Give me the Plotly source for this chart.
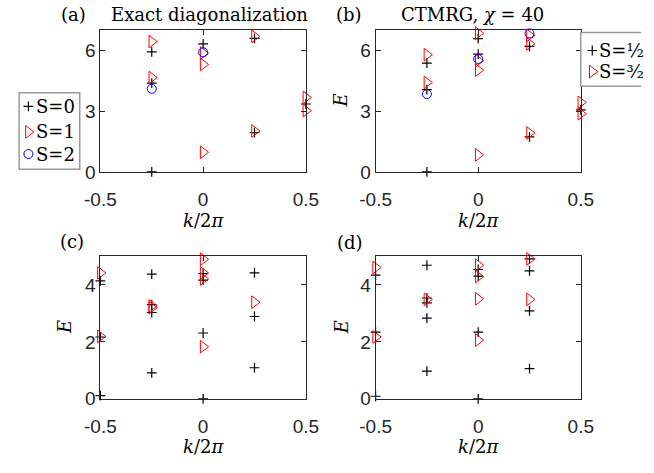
import plotly.graph_objects as go

W, H = 654, 473

# ---- Panel (a): exact diagonalization, integer spin sectors ----
ka_s0 = [-0.25, -0.25, -0.25, 0.0, 0.25, 0.25, 0.5]
Ea_s0 = [0.0, 4.38, 5.92, 6.32, 1.94, 6.59, 3.35]
ka_s1 = [-0.25, -0.25, 0.0, 0.0, 0.0, 0.25, 0.25, 0.5, 0.5]
Ea_s1 = [4.65, 6.43, 0.97, 5.30, 5.86, 2.02, 6.68, 3.02, 3.67]
ka_s2 = [-0.25, 0.0]
Ea_s2 = [4.10, 5.90]

# ---- Panel (b): CTMRG chi = 40, half-integer spin sectors ----
kb_s12 = [-0.25, -0.25, -0.25, 0.0, 0.0, 0.25, 0.25, 0.5]
Eb_s12 = [0.0, 4.06, 5.37, 5.81, 6.57, 1.73, 6.19, 3.06]
kb_s32 = [-0.25, -0.25, 0.0, 0.0, 0.0, 0.0, 0.25, 0.25, 0.25, 0.5, 0.5]
Eb_s32 = [4.41, 5.78, 0.84, 5.02, 5.49, 6.84, 1.92, 6.32, 6.73, 2.87, 3.43]
kb_s52 = [-0.25, 0.0, 0.25]
Eb_s52 = [3.84, 5.57, 6.83]

# ---- Panel (c) ----
kc_p = [-0.5, -0.5, -0.5, -0.25, -0.25, -0.25, -0.25, 0.0, 0.0, 0.0, 0.0, 0.25, 0.25, 0.25]
Ec_p = [0.11, 2.17, 4.14, 0.91, 3.03, 3.31, 4.38, 0.0, 2.31, 4.17, 4.40, 1.09, 2.89, 4.42]
kc_t = [-0.5, -0.5, -0.25, -0.25, 0.0, 0.0, 0.0, 0.0, 0.25]
Ec_t = [2.19, 4.42, 3.20, 3.26, 1.83, 4.21, 4.42, 4.90, 3.39]

# ---- Panel (d) ----
kd_p = [-0.5, -0.5, -0.5, -0.25, -0.25, -0.25, -0.25, -0.25, 0.0, 0.0, 0.0, 0.0,
        0.25, 0.25, 0.25, 0.25]
Ed_p = [0.09, 2.34, 4.34, 0.97, 2.83, 3.37, 3.54, 4.69, 0.0, 2.34, 4.31, 4.54,
        1.06, 3.09, 4.49, 4.91]
kd_t = [-0.5, -0.5, -0.25, 0.0, 0.0, 0.0, 0.0, 0.25, 0.25]
Ed_t = [2.17, 4.61, 3.49, 2.06, 3.51, 4.29, 4.69, 3.49, 4.91]

x_ticks = [-0.5, 0.0, 0.5]
x_ticktext = ["-0.5", "0", "0.5"]
y_ticks_top = [0, 3, 6]
y_ticks_bottom = [0, 2, 4]

AX = "#262626"
SERIF = "DejaVu Serif"
SANS = "Liberation Sans"

PLUS = dict(symbol="cross-thin-open", size=7, color="black", line=dict(width=1.2, color="black"))
TRI = dict(symbol="triangle-right-open", size=11, color="red", line=dict(width=1, color="red"))
CIRC = dict(symbol="circle-open", size=9, color="blue", line=dict(width=1, color="blue"))

fig = go.Figure()


def add(k, e, marker, xa, ya):
    fig.add_trace(go.Scatter(x=k, y=e, mode="markers", marker=marker, xaxis=xa, yaxis=ya,
                             cliponaxis=False, showlegend=False, hoverinfo="skip"))


add(ka_s0, Ea_s0, PLUS, "x", "y")
add(ka_s1, Ea_s1, TRI, "x", "y")
add(ka_s2, Ea_s2, CIRC, "x", "y")
add(kb_s12, Eb_s12, PLUS, "x2", "y2")
add(kb_s32, Eb_s32, TRI, "x2", "y2")
add(kb_s52, Eb_s52, CIRC, "x2", "y2")
add(kc_p, Ec_p, PLUS, "x3", "y3")
add(kc_t, Ec_t, TRI, "x3", "y3")
add(kd_p, Ed_p, PLUS, "x4", "y4")
add(kd_t, Ed_t, TRI, "x4", "y4")

# Pixel-space overlay used for the legend boxes and the text labels
leg_x = [13, 13, 13, 603, 603]
leg_y = [109, 135, 157.7, 51.7, 73.3]
fig.add_trace(go.Scatter(x=leg_x[0:1] + leg_x[3:4], y=leg_y[0:1] + leg_y[3:4], mode="markers",
                         marker=PLUS, xaxis="x5", yaxis="y5", showlegend=False, hoverinfo="skip"))
fig.add_trace(go.Scatter(x=[leg_x[1], leg_x[4]], y=[leg_y[1], leg_y[4]], mode="markers",
                         marker=TRI, xaxis="x5", yaxis="y5", showlegend=False, hoverinfo="skip"))
fig.add_trace(go.Scatter(x=[leg_x[2]], y=[leg_y[2]], mode="markers",
                         marker=CIRC, xaxis="x5", yaxis="y5", showlegend=False, hoverinfo="skip"))

xl, xr = 88.3, 303.3
xl2, xr2 = 376.3, 591.0
yt1, yb1 = 30.7, 176.0
yt2, yb2 = 262.5, 408.3


def xd(a, b):
    return [a / W, b / W]


def yd(top, bot):
    return [1 - bot / H, 1 - top / H]


common = dict(showline=True, linecolor=AX, linewidth=1, mirror="ticks", ticks="inside",
              ticklen=5, tickcolor=AX, showgrid=False, zeroline=False,
              tickfont=dict(family=SANS, size=19, color=AX), fixedrange=True)

xcommon = dict(common, range=[-0.5, 0.5], tickvals=x_ticks, ticktext=x_ticktext,
               ticklabelstandoff=10)

fig.update_layout(
    width=W, height=H, margin=dict(l=0, r=0, t=0, b=0),
    paper_bgcolor="white", plot_bgcolor="rgba(0,0,0,0)",
    xaxis=dict(xcommon, domain=xd(xl, xr), anchor="y"),
    yaxis=dict(common, domain=yd(yt1, yb1), anchor="x", range=[0, 7], tickvals=y_ticks_top),
    xaxis2=dict(xcommon, domain=xd(xl2, xr2), anchor="y2"),
    yaxis2=dict(common, domain=yd(yt1, yb1), anchor="x2", range=[0, 7], tickvals=y_ticks_top),
    xaxis3=dict(xcommon, domain=xd(xl, xr), anchor="y3"),
    yaxis3=dict(common, domain=yd(yt2, yb2), anchor="x3", range=[0, 5], tickvals=y_ticks_bottom),
    xaxis4=dict(xcommon, domain=xd(xl2, xr2), anchor="y4"),
    yaxis4=dict(common, domain=yd(yt2, yb2), anchor="x4", range=[0, 5], tickvals=y_ticks_bottom),
    xaxis5=dict(domain=[0, 1], range=[0, W], visible=False, fixedrange=True, anchor="y5"),
    yaxis5=dict(domain=[0, 1], range=[H, 0], visible=False, fixedrange=True, anchor="x5"),
    showlegend=False,
)

LEG_BORDER = "#9a9a9a"
fig.add_shape(type="rect", xref="x5", yref="y5", x0=3.3, x1=66.7, y0=95, y1=173.3,
              line=dict(color=LEG_BORDER, width=1.5), fillcolor="white", layer="below")
fig.add_shape(type="rect", xref="x5", yref="y5", x0=591, x1=670, y0=33.3, y1=88.3,
              line=dict(color=LEG_BORDER, width=1.5), fillcolor="white", layer="below")


def text(x, y, s, size=18, anchor="center", angle=0, color="black"):
    fig.add_annotation(x=x, y=y, xref="x5", yref="y5", text=s, showarrow=False,
                       xanchor=anchor, yanchor="middle", textangle=angle,
                       font=dict(family=SERIF, size=size, color=color))


# legend labels
text(19, 109, "S=0", anchor="left")
text(19, 135, "S=1", anchor="left")
text(19, 157.7, "S=2", anchor="left")
text(608, 51.7, "S=½", anchor="left")
text(608, 73.3, "S=³⁄₂", anchor="left")

# panel labels and titles
text(60, 15, "(a)")
text(202, 15, "Exact diagonalization")
text(348, 15, "(b)")
text(478, 15, "CTMRG, <i>χ</i> = 40")
text(59, 247, "(c)")
text(349, 248, "(d)")

# axis labels
for cx, cy in [(196, 226), (484, 226), (196, 457), (484, 457)]:
    text(cx, cy, "<i>k</i>/2<i>π</i>")
for cx, cy in [(340, 103), (50, 335), (340, 335)]:
    text(cx, cy, "<i>E</i>", angle=-90)

fig.write_html("out.html")
